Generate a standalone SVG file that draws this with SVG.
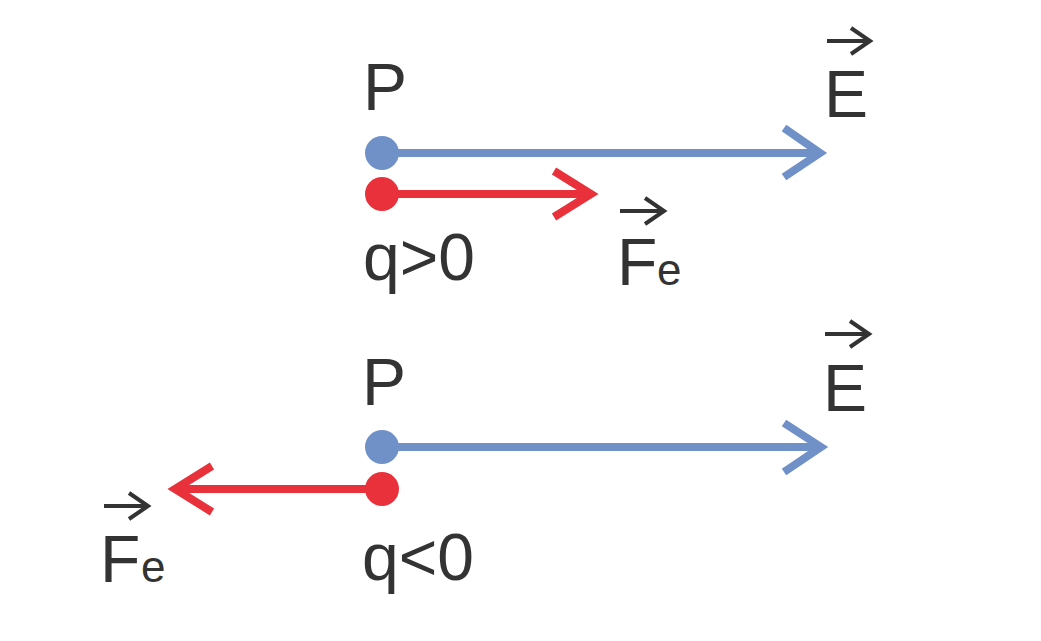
<svg xmlns="http://www.w3.org/2000/svg" width="1041" height="641" viewBox="0 0 1041 641">
<style>
.t{font-family:"Liberation Sans",Arial,sans-serif;fill:#333;font-size:66px}
.s{font-family:"Liberation Sans",Arial,sans-serif;fill:#333;font-size:44px}
.b{stroke:#7090c8;stroke-width:8;fill:none}
.r{stroke:#e8313a;stroke-width:8;fill:none}
.v{stroke:#333;stroke-width:4;fill:none}
</style>
<rect width="1041" height="641" fill="#fff"/>
<g id="connectors">
<path class="b" d="M382 153H820M784 128L820 153L784 177"/>
<path class="r" d="M382 194H591M554 171L591 194L554 217"/>
<path class="b" d="M382 447H821M784 423L821 447L784 472"/>
<path class="r" d="M382 489H175M212 466L175 489L212 512"/>
</g>
<g id="top-P"><text class="t" x="363" y="110">P</text><circle cx="382" cy="153" r="17" fill="#7090c8"/></g>
<g id="top-q"><circle cx="382" cy="194" r="17" fill="#e8313a"/><text class="t" x="363" y="280">q&gt;0</text></g>
<g id="top-E"><text class="t" x="824" y="117">E</text><path class="v" d="M827 41H870M851 28L870 41L851 54"/></g>
<g id="top-F"><text class="t" x="617" y="285">F</text><text class="s" x="657" y="285">e</text><path class="v" d="M620 211H664M645 198L664 211L645 224"/></g>
<g id="bot-P"><text class="t" x="362" y="405">P</text><circle cx="382" cy="447" r="17" fill="#7090c8"/></g>
<g id="bot-q"><circle cx="382" cy="489" r="17" fill="#e8313a"/><text class="t" x="362" y="580">q&lt;0</text></g>
<g id="bot-E"><text class="t" x="823" y="411">E</text><path class="v" d="M825 334H869M850 321L869 334L850 347"/></g>
<g id="bot-F"><text class="t" x="100" y="582">F</text><text class="s" x="141" y="582">e</text><path class="v" d="M104 506H148M129 493L148 506L129 519"/></g>
</svg>
